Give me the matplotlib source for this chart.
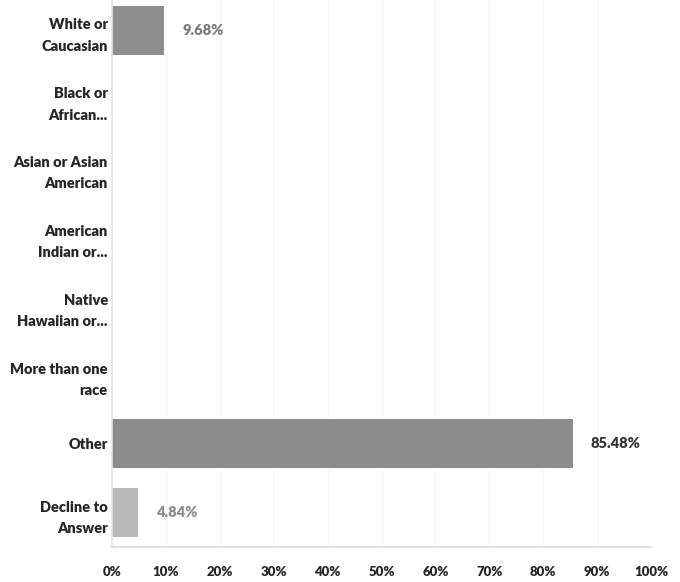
import matplotlib
matplotlib.use("Agg")
import matplotlib.pyplot as plt

categories = [
    "White or\nCaucasian",
    "Black or\nAfrican...",
    "Asian or Asian\nAmerican",
    "American\nIndian or...",
    "Native\nHawaiian or...",
    "More than one\nrace",
    "Other",
    "Decline to\nAnswer",
]
values = [9.68, 0, 0, 0, 0, 0, 85.48, 4.84]
value_labels = ["9.68%", None, None, None, None, None, "85.48%", "4.84%"]
x_ticks = [0, 10, 20, 30, 40, 50, 60, 70, 80, 90, 100]
x_tick_labels = [f"{t}%" for t in x_ticks]

bar_colors = ["#8e8e8e", "#8e8e8e", "#8e8e8e", "#8e8e8e", "#8e8e8e", "#8e8e8e", "#8c8c8c", "#b8b8b8"]
label_colors = ["#7a7a7a", None, None, None, None, None, "#333333", "#8a8a8a"]

plt.rcParams["font.family"] = ["Lato", "DejaVu Sans"]

W, H = 680, 582
fig = plt.figure(figsize=(W / 100, H / 100), dpi=100)
left, right = 112 / W, 651 / W
top_px, bot_px = -4, 547
ax = fig.add_axes([left, 1 - bot_px / H, right - left, (bot_px - top_px) / H])

ypos = list(range(len(categories)))
ax.barh(ypos, values, height=0.72, color=bar_colors, edgecolor="none")
ax.set_ylim(len(categories) - 0.5, -0.5)
ax.set_xlim(0, 100)

for y, v, lab, col in zip(ypos, values, value_labels, label_colors):
    if lab:
        ax.annotate(lab, (v, y), xytext=(18, 0), textcoords="offset pixels",
                    va="center", ha="left", fontsize=10.5, fontweight="heavy", color=col)

ax.set_yticks(ypos)
ax.set_yticklabels(categories, fontsize=10.5, fontweight="heavy", color="#262626", linespacing=1.75)
ax.set_xticks(x_ticks)
ax.set_xticklabels(x_tick_labels, fontsize=9.5, fontweight="heavy", color="#262626")
ax.tick_params(axis="both", length=0)
ax.tick_params(axis="y", pad=3)
ax.tick_params(axis="x", pad=14)

ax.grid(axis="x", color="#f7f7f7", linewidth=0.8)
ax.set_axisbelow(True)
for s in ["top", "right"]:
    ax.spines[s].set_visible(False)
ax.spines["left"].set_color("#e4e4e4")
ax.spines["bottom"].set_color("#dcdcdc")
ax.spines["left"].set_linewidth(1.2)
ax.spines["bottom"].set_linewidth(1.2)

fig.savefig("out.png", dpi=100)
